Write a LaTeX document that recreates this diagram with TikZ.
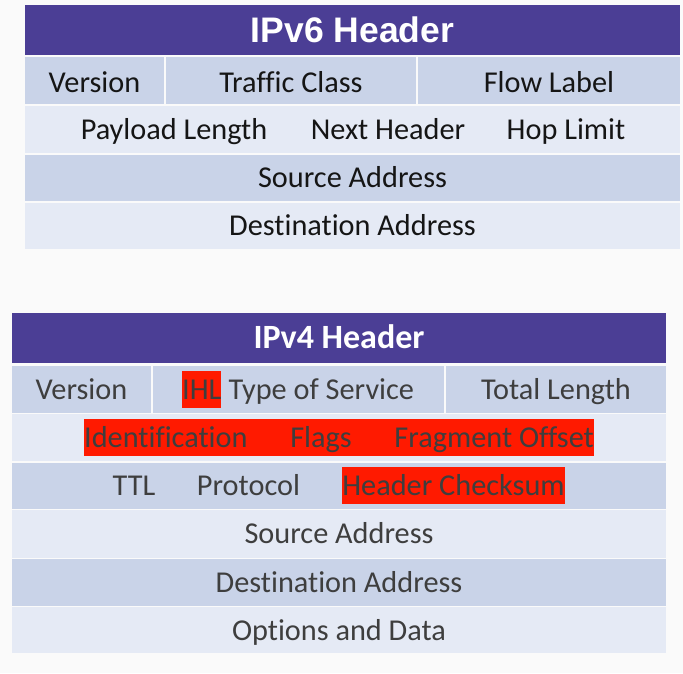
\documentclass[tikz,border=0pt]{standalone}
\usepackage{fontspec}
\setmainfont{Carlito}[Ligatures={NoCommon}]
\newfontfamily\titlesans{Liberation Sans}
\definecolor{pagebg}{HTML}{FAFAFA}
\definecolor{headpurple}{HTML}{4B3E95}
\definecolor{rowdark}{HTML}{C9D3E8}
\definecolor{rowlight}{HTML}{E5EAF5}
\definecolor{hlred}{HTML}{FF1A00}
\definecolor{inksix}{HTML}{151515}
\definecolor{inkfour}{HTML}{3E3E3E}
\tikzset{
  cell/.style={inner sep=0pt, anchor=north west, draw=none},
  headcell/.style={cell, fill=headpurple},
  darkcell/.style={cell, fill=rowdark},
  lightcell/.style={cell, fill=rowlight},
  field/.style={anchor=base, inner sep=0pt, font=\fontsize{30.3}{31}\selectfont},
  sixfield/.style={field, text=inksix},
  fourfield/.style={field, text=inkfour},
  hlbox/.style={cell, fill=hlred},
  sixtitle/.style={anchor=base, inner sep=0pt, text=white,
    font=\titlesans\bfseries\fontsize{35.5}{36}\selectfont},
  fourtitle/.style={anchor=base, inner sep=0pt, text=white,
    font=\bfseries\fontsize{34}{35}\selectfont},
}
\begin{document}
\begin{tikzpicture}[x=1pt,y=-1pt]
  \fill[pagebg] (0,0) rectangle (683,673);
  \useasboundingbox (0,0) rectangle (683,673);

  % ---------------- IPv6 header ----------------
  \node[headcell, minimum width=655pt, minimum height=50pt] (v6head) at (25,5) {};
  \node[sixtitle] (v6title) at (352.5,42) {IPv6 Header};

  \node[darkcell, minimum width=139pt, minimum height=47pt] (v6ver) at (25,57) {};
  \node[darkcell, minimum width=250pt, minimum height=47pt] (v6tc)  at (166,57) {};
  \node[darkcell, minimum width=262pt, minimum height=47pt] (v6fl)  at (418,57) {};
  \node[sixfield] (v6vert) at (94.5,92) {Version};
  \node[sixfield] (v6tct)  at (291,92) {Traffic Class};
  \node[sixfield] (v6flt)  at (549,92) {Flow Label};

  \node[lightcell, minimum width=655pt, minimum height=47pt] (v6row2) at (25,106) {};
  \node[sixfield] (v6pl) at (174,139.5) {Payload Length};
  \node[sixfield] (v6nh) at (388,139.5) {Next Header};
  \node[sixfield] (v6hl) at (566,139.5) {Hop Limit};

  \node[darkcell, minimum width=655pt, minimum height=46pt] (v6row3) at (25,155) {};
  \node[sixfield] (v6src) at (352.5,187.5) {Source Address};

  \node[lightcell, minimum width=655pt, minimum height=46pt] (v6row4) at (25,203) {};
  \node[sixfield] (v6dst) at (352.5,235.5) {Destination Address};

  % ---------------- IPv4 header ----------------
  \node[headcell, minimum width=654pt, minimum height=50pt] (v4head) at (12,313) {};
  \node[fourtitle] (v4title) at (339,348) {IPv4 Header};

  \node[darkcell, minimum width=139pt, minimum height=47pt] (v4ver) at (12,366) {};
  \node[darkcell, minimum width=291pt, minimum height=47pt] (v4tos) at (153,366) {};
  \node[darkcell, minimum width=220pt, minimum height=47pt] (v4tl)  at (446,366) {};
  \node[fourfield] (v4vert) at (81.5,399.5) {Version};
  \node[fourfield, anchor=base west, fill=hlred, text height=29pt, text depth=8pt]
    (v4ihl) at (182,399.5) {IHL};
  \node[fourfield, anchor=base west] (v4tost) at ([xshift=6.8pt]v4ihl.base east) {Type of Service};
  \node[fourfield] (v4tlt) at (556,399.5) {Total Length};

  \node[lightcell, minimum width=654pt, minimum height=47pt] (v4row2) at (12,414) {};
  \node[hlbox, minimum width=510pt, minimum height=37pt] (v4frag) at (84,419) {};
  \node[fourfield, anchor=base west] (v4id) at (84,447) {Identification};
  \node[fourfield] (v4flags) at (321,447) {Flags};
  \node[fourfield, anchor=base east] (v4off) at (594,447) {Fragment Offset};

  \node[darkcell, minimum width=654pt, minimum height=46pt] (v4row3) at (12,463) {};
  \node[fourfield] (v4ttl) at (134,495) {TTL};
  \node[fourfield] (v4proto) at (248.5,495) {Protocol};
  \node[hlbox, minimum width=223pt, minimum height=37pt] (v4ckbox) at (342,467) {};
  \node[fourfield] (v4ck) at (453.5,495) {Header Checksum};

  \node[lightcell, minimum width=654pt, minimum height=48pt] (v4row4) at (12,510) {};
  \node[fourfield] (v4src) at (339,543.5) {Source Address};

  \node[darkcell, minimum width=654pt, minimum height=47pt] (v4row5) at (12,559) {};
  \node[fourfield] (v4dst) at (339,592) {Destination Address};

  \node[lightcell, minimum width=654pt, minimum height=46pt] (v4row6) at (12,607) {};
  \node[fourfield] (v4opt) at (339,640) {Options and Data};
\end{tikzpicture}
\end{document}
